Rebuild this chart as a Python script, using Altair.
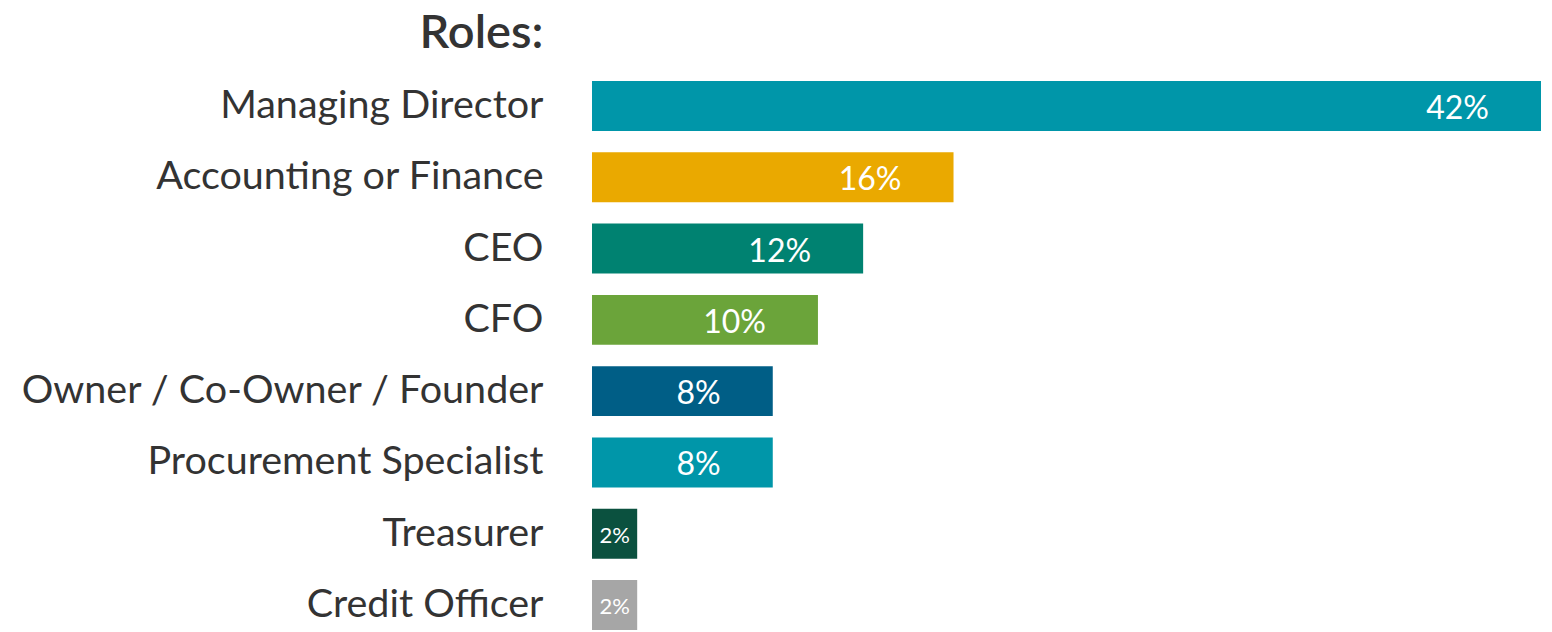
import altair as alt
import pandas as pd

roles = ["Managing Director", "Accounting or Finance", "CEO", "CFO",
         "Owner / Co-Owner / Founder", "Procurement Specialist", "Treasurer", "Credit Officer"]
values = [42, 16, 12, 10, 8, 8, 2, 2]
colors = ["#0096A9", "#EAA900", "#008271", "#6BA43A", "#005E86", "#0096A9", "#0B513F", "#A6A6A6"]

df = pd.DataFrame({"role": roles, "value": values, "color": colors})
df["label"] = df["value"].astype(str) + "%"

FONT = "Lato"

y = alt.Y("role:N", sort=roles,
          scale=alt.Scale(paddingInner=0.3, paddingOuter=0),
          axis=alt.Axis(title="Roles:", titleAngle=0, titleAlign="right",
                        titleBaseline="alphabetic", titleX=-49, titleY=-34,
                        titleFont=FONT, titleFontSize=47, titleFontWeight=600,
                        titleColor="#333333",
                        labelFont=FONT, labelFontSize=39.5, labelColor="#333333",
                        labelPadding=49, ticks=False, domain=False, labelLimit=0))
x = alt.X("value:Q", scale=alt.Scale(domain=[0, 42], nice=False, zero=True), axis=None)

bars = alt.Chart(df).mark_bar().encode(
    x=x, y=y, color=alt.Color("color:N", scale=None))

big = alt.Chart(df).transform_filter("datum.value >= 5").mark_text(
    align="right", baseline="middle", dx=-52, dy=3, font=FONT, fontSize=32, color="white"
).encode(x=x, y=alt.Y("role:N", sort=roles), text="label:N")

small = alt.Chart(df).transform_filter("datum.value < 5").transform_calculate(
    mid="datum.value / 2").mark_text(
    align="center", baseline="middle", dy=2, font=FONT, fontSize=22, color="white"
).encode(x=alt.X("mid:Q"), y=alt.Y("role:N", sort=roles), text="label:N")

chart = alt.layer(bars, big, small).properties(
    width=949, height=549,
    autosize=alt.AutoSizeParams(type="none"),
    padding={"left": 584, "top": 73, "right": 3, "bottom": 0},
).configure_view(stroke=None)

chart.save("out.html", embed_options={"renderer": "svg", "actions": False})
